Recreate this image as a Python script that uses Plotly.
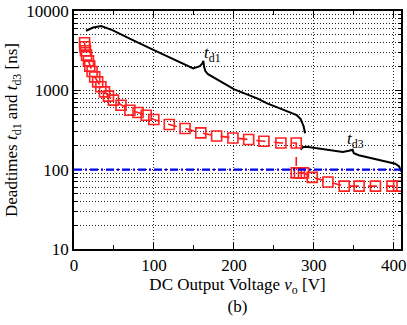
import plotly.graph_objects as go
import numpy as np

# Measured deadtimes (red squares)
vo_meas = [13.2, 13.6, 14.4, 15.7, 18.1, 19.7, 22.6, 25.9, 29.6, 33.6, 38.2, 43.1, 49.3, 58.8,
           69.9, 80.1, 90.3, 99.8, 119.2, 138.9, 158.6, 178.4, 198.8, 218.5, 237.5, 258.8, 278,
           278, 282, 287, 298, 317.6, 338, 356.6, 377, 397.7, 406]
td_meas = [3980, 3540, 3150, 2780, 2350, 2020, 1730, 1480, 1280, 1110, 957, 845, 752, 650,
           562, 526, 486, 429, 371, 330, 291, 266, 251, 240, 228, 217, 217,
           91, 91, 91, 80, 70, 62, 62, 62, 62, 62]

# Theoretical t_d1 curve
vo_d1 = [15, 24, 34, 48, 69, 92, 100, 149.1, 157.4, 160.6, 161.8, 162.7, 164.3, 167.6,
         200.5, 229, 241.6, 278.6, 283.5, 287.2, 289]
td_d1 = [5640, 6200, 6470, 5750, 4520, 3480, 3220, 1890, 2020, 2190, 2360, 1980, 1750, 1600,
         1030, 791, 684, 486, 433, 353, 288]

# Theoretical t_d3 curve
vo_d3 = [283.5, 286, 290.9, 336.1, 343.9, 348.5, 350, 356.2, 401.8, 406.7, 409]
td_d3 = [179, 192, 194, 167, 173, 178, 161, 152, 119, 110, 95]

td_ref = 100  # reference deadtime level

x_ticks = [0, 100, 200, 300, 400]
y_ticks = [10, 100, 1000, 10000]

FONT = "Liberation Serif"
GRID = dict(showgrid=True, gridcolor="#222", griddash="1px,2px", gridwidth=1)

fig = go.Figure()
fig.add_trace(go.Scatter(x=vo_d1, y=td_d1, mode="lines",
                         line=dict(color="black", width=2), showlegend=False))
fig.add_trace(go.Scatter(x=vo_d3, y=td_d3, mode="lines",
                         line=dict(color="black", width=2), showlegend=False))
fig.add_hline(y=td_ref, line=dict(color="#0000ee", width=2.2, dash="8px,3px,2px,3px"))
fig.add_trace(go.Scatter(x=vo_meas, y=td_meas, mode="lines+markers",
                         line=dict(color="#ff1a1a", width=1.6, dash="dash"),
                         marker=dict(symbol="square-open", size=10, color="#ff2020",
                                     line=dict(width=1.6, color="#ff2020")),
                         showlegend=False))

fig.add_annotation(x=172.6, y=np.log10(2860), text="<i>t</i><sub>d1</sub>",
                   showarrow=False, font=dict(family=FONT, size=17, color="black"))
fig.add_annotation(x=352.5, y=np.log10(235), text="<i>t</i><sub>d3</sub>",
                   showarrow=False, font=dict(family=FONT, size=17, color="black"))

fig.update_layout(
    width=407, height=325,
    margin=dict(l=74, r=1, t=11, b=76),
    paper_bgcolor="white", plot_bgcolor="white",
    font=dict(family=FONT, size=17, color="black"),
    xaxis=dict(range=[0, 409], tickvals=x_ticks, ticks="inside", ticklen=6,
               tickcolor="black", showline=True, linecolor="black", linewidth=1.5,
               mirror="ticks", zeroline=False, ticklabeloverflow="allow",
               minor=dict(dtick=50, ticks="inside", ticklen=4, tickcolor="black", showgrid=False),
               title=dict(text="DC Output Voltage <i>v</i><sub>o</sub> [V]<br>(b)",
                          font=dict(family=FONT, size=17), standoff=4),
               tickfont=dict(family=FONT, size=17), **GRID),
    yaxis=dict(type="log", range=[1, 4], tickvals=y_ticks, ticktext=[str(v) for v in y_ticks],
               ticks="inside", ticklen=6, tickcolor="black", showline=True, linecolor="black",
               linewidth=1.5, mirror="ticks", zeroline=False,
               minor=dict(dtick="D1", ticks="inside", ticklen=3, tickcolor="black", **GRID),
               title=dict(text="Deadtimes <i>t</i><sub>d1</sub> and <i>t</i><sub>d3</sub> [ns]",
                          font=dict(family=FONT, size=17), standoff=4),
               tickfont=dict(family=FONT, size=17), **GRID),
)

fig.write_html("out.html")
